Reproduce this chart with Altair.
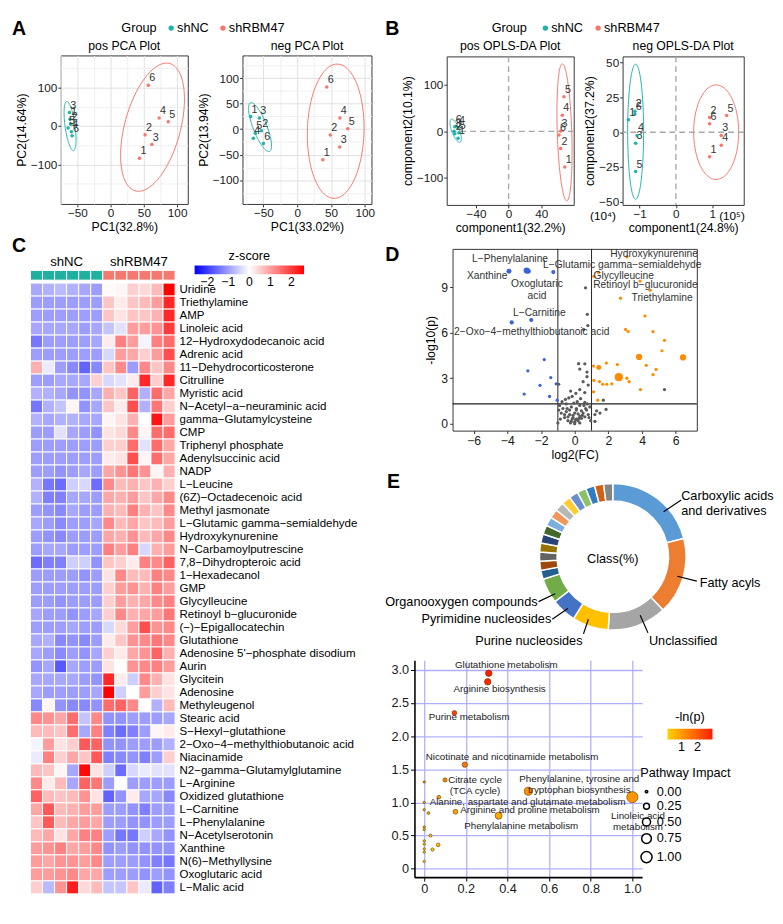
import json
import altair as alt
import numpy as np
import pandas as pd

FONT = "Liberation Sans"
TEAL = "#20B2AA"
SALMON = "#F8766D"
GROUPS = ["shNC", "shRBM47"]
LABELS = ["1", "2", "3", "4", "5", "6"]

pos_pca_nc_x = [-61, -60, -62, -59, -64, -58]
pos_pca_nc_y = [18, 5, 35, -15, -5, -25]
pos_pca_kd_x = [43.5, 51.8, 62, 73, 86.6, 56.6]
pos_pca_kd_y = [-84, -23, -48, 21, 11, 106]
neg_pca_nc_x = [-69, -53, -56, -65, -62, -50]
neg_pca_nc_y = [25, -3, 22, -18, -8, -28]
neg_pca_kd_x = [38, 49, 63, 63.3, 75, 43.8]
neg_pca_kd_y = [-60, -11.5, -35, 22, 1, 83]
pos_opls_nc_x = [-62, -66, -67, -62, -61, -66]
pos_opls_nc_y = [-15, -5, 0, 8, -3, 10]
pos_opls_kd_x = [69, 64, 64, 66, 68, 62]
pos_opls_kd_y = [-77, -37, 1, 35, 75, -8]
neg_opls_nc_x = [-1.31, -1.13, -1.11, -1.07, -1.11, -1.13]
neg_opls_nc_y = [9, 15, -8, -2.3, -28.3, 13]
neg_opls_kd_x = [0.93, 0.93, 1.25, 1.25, 1.4, 0.93]
neg_opls_kd_y = [-17.7, 10.6, -2.3, -9.4, 12, 6]
pos_pca_ell = {"shNC": [-61, 0, 9, 64, 123], "shRBM47": [63, -3, 48, 167, 64]}
neg_pca_ell = {"shNC": [-55, 4, 17, 48, 140], "shRBM47": [57, -4, 42, 132, 87]}
pos_opls_ell = {"shNC": [-65, 1.5, 7, 25, 134], "shRBM47": [68.7, -2, 9.3, 148, 107]}
neg_opls_ell = {"shNC": [-1.11, 0.3, 0.22, 48.6, 90], "shRBM47": [1.11, 0, 0.62, 34, 90]}

metabolites = [
    "Uridine", "Triethylamine", "AMP", "Linoleic acid", "12−Hydroxydodecanoic acid",
    "Adrenic acid", "11−Dehydrocorticosterone", "Citrulline", "Myristic acid",
    "N−Acetyl−a−neuraminic acid", "gamma−Glutamylcysteine", "CMP", "Triphenyl phosphate",
    "Adenylsuccinic acid", "NADP", "L−Leucine", "(6Z)−Octadecenoic acid", "Methyl jasmonate",
    "L−Glutamic gamma−semialdehyde", "Hydroxykynurenine", "N−Carbamoylputrescine",
    "7,8−Dihydropteroic acid", "1−Hexadecanol", "GMP", "Glycylleucine",
    "Retinoyl b−glucuronide", "(−)−Epigallocatechin", "Glutathione",
    "Adenosine 5'−phosphate disodium", "Aurin", "Glycitein", "Adenosine", "Methyleugenol",
    "Stearic acid", "S−Hexyl−glutathione", "2−Oxo−4−methylthiobutanoic acid", "Niacinamide",
    "N2−gamma−Glutamylglutamine", "L−Arginine", "Oxidized glutathione", "L−Carnitine",
    "L−Phenylalanine", "N−Acetylserotonin", "Xanthine", "N(6)−Methyllysine",
    "Oxoglutaric acid", "L−Malic acid",
]
zscores = [
    [-0.9, -0.8, -0.7, -0.8, -0.9, -1.0, 0.05, 0.1, 0.5, 0.4, 0.7, 2.6],
    [-1.0, -1.0, -1.0, -1.0, -1.0, -1.0, 0.6, 0.2, 0.6, 0.7, 1.0, 2.2],
    [-1.0, -1.0, -1.0, -1.0, -1.0, -1.0, 0.6, 0.3, 0.6, 0.6, 0.8, 2.2],
    [-0.9, -0.9, -0.9, -0.9, -1.0, -0.9, -0.6, -0.3, 1.0, 1.0, 1.1, 2.0],
    [-1.4, -1.0, -1.0, -1.0, -1.0, -0.9, 0.2, 1.3, 1.0, -0.1, 1.3, 1.5],
    [-1.0, -1.0, -1.0, -1.0, -1.0, -1.0, -0.4, 1.0, 0.9, 0.5, 1.0, 1.8],
    [0.8, -0.2, -1.0, -1.2, -1.6, -1.2, 0.6, 1.2, -1.0, 1.2, 0.6, 1.2],
    [-1.0, -1.0, -0.9, -0.9, -0.9, 0.5, -0.4, -0.3, 0.2, 2.2, 0.5, 2.2],
    [-0.8, -0.8, -0.9, -1.1, -1.1, -0.9, 0.8, 0.6, 1.6, -0.8, 1.5, 0.9],
    [-1.4, -0.8, -0.6, 0.1, -1.1, -0.9, 0.6, 0.2, 1.8, -0.8, 1.4, 0.5],
    [-0.8, -0.9, -0.8, -0.8, -0.9, -0.9, 0.1, 0.3, 0.8, 0.0, 2.4, 1.0],
    [-1.0, -1.0, -0.3, -0.9, -1.0, -1.1, 0.3, 0.4, 1.2, 0.1, 1.5, 1.5],
    [-1.0, -1.0, -1.0, -1.0, -1.0, -1.0, 0.5, 0.5, 1.5, -0.3, 1.5, 0.9],
    [-1.0, -1.0, -1.0, -1.0, -1.0, -1.0, 0.2, 0.3, 1.8, 0.1, 1.5, 0.9],
    [-1.0, -1.0, -1.1, -1.0, -0.9, -1.0, 0.9, 1.1, 1.4, 1.1, 0.1, 0.8],
    [-0.8, -1.4, -1.5, -0.5, -0.4, -1.5, 1.2, 0.7, 0.8, 0.6, 0.8, 0.5],
    [-0.8, -1.3, -1.3, -0.9, -0.9, -1.0, 0.9, 0.8, 1.0, 0.6, 0.9, 1.2],
    [-1.0, -1.1, -1.2, -0.9, -1.0, -1.0, 0.8, 0.7, 1.3, 0.8, 0.6, 1.2],
    [-0.9, -1.0, -1.2, -1.0, -1.0, -0.9, 1.2, 0.7, 0.9, 0.6, 0.7, 1.0],
    [-1.0, -1.1, -1.2, -1.0, -1.0, -1.0, 0.9, 0.8, 1.1, 0.7, 0.9, 1.2],
    [-1.0, -0.9, -0.9, -1.0, -1.0, -1.0, 1.3, 1.0, 1.3, -0.4, 0.8, 1.0],
    [-1.5, -1.3, -1.3, -0.5, -0.5, -1.1, 0.6, 0.5, 0.2, 1.3, 1.2, 1.6],
    [-1.0, -1.0, -1.0, -1.0, -1.1, -1.0, 0.3, 1.2, 0.7, 0.7, 1.3, 1.2],
    [-1.0, -1.0, -1.0, -1.0, -1.0, -1.0, 0.5, 1.0, 1.1, 0.8, 1.3, 1.0],
    [-1.0, -1.0, -1.1, -1.0, -1.0, -1.0, 0.5, 1.0, 0.8, 0.9, 1.2, 1.3],
    [-0.9, -1.0, -1.0, -1.1, -1.0, -0.9, 0.5, 1.2, 0.8, 0.9, 1.0, 1.4],
    [-1.0, -1.0, -1.0, -0.9, -1.0, -1.0, -0.4, 0.4, 1.0, 1.8, 1.1, 1.2],
    [-0.9, -0.8, -1.2, -1.1, -1.2, -1.0, 0.2, 0.6, 1.1, 1.2, 1.4, 1.2],
    [-0.9, -1.0, -1.2, -1.0, -1.1, -0.9, 0.5, 0.2, 0.9, 1.1, 1.6, 0.8],
    [-1.1, -0.9, -1.7, -0.9, -1.0, -1.0, 0.3, 0.0, 1.1, 1.2, 1.3, 1.0],
    [-0.9, -0.9, -0.9, -0.9, -1.0, -1.1, 2.2, 0.2, -0.5, 1.2, 0.8, 0.3],
    [-0.9, -1.0, -1.0, -1.0, -1.0, -0.9, 2.6, -0.5, 0.0, 1.0, 0.5, 0.3],
    [-1.2, 0.1, -1.1, -1.2, -1.2, -1.1, 1.5, 1.6, 1.2, 0.0, -0.8, 0.7],
    [1.2, 1.1, 0.9, 1.5, -0.6, 1.2, -1.1, -1.1, -1.0, -1.0, -1.0, -0.9],
    [0.7, 0.7, 0.6, 1.5, -0.9, 1.3, -1.3, -1.5, -1.3, -1.0, 0.1, 0.2],
    [-0.1, 1.0, 0.3, 0.5, 1.7, 1.6, -1.1, -1.1, -1.0, -1.0, -1.0, -0.8],
    [-0.2, 1.3, 0.5, 0.9, 0.6, 1.7, -1.3, -1.2, -1.1, -1.3, -1.0, 0.5],
    [0.7, 0.6, 0.1, -0.9, 2.5, 0.3, -0.5, -1.5, -0.4, -0.2, -0.3, -0.3],
    [1.2, 0.2, 0.7, -0.9, 1.6, 1.4, -1.0, 0.0, -1.0, -1.0, -1.0, -1.0],
    [1.6, 0.7, 0.6, 0.7, 1.1, 0.3, -1.6, -1.1, 0.2, -0.9, -0.9, -1.2],
    [0.9, 1.7, 0.7, 0.8, 1.0, 1.0, -1.0, -1.0, -1.1, -1.3, -1.0, -1.0],
    [0.6, 1.7, 0.7, 0.9, 1.0, 0.9, -1.0, -1.0, -1.1, -1.1, -1.0, -1.0],
    [0.7, 0.9, 0.3, 0.9, 1.3, 1.3, -1.0, -1.4, -1.4, -0.5, -0.9, -1.1],
    [1.0, 1.1, 1.3, 0.9, 1.0, 1.2, -1.1, -1.0, -1.1, -1.1, -1.1, -1.1],
    [1.0, 0.9, 1.1, 1.1, 1.0, 1.2, -1.0, -1.0, -1.0, -1.1, -1.3, -1.4],
    [1.0, 1.0, 1.1, 1.2, 0.9, 0.9, -1.0, -1.0, -1.0, -1.1, -1.0, -1.1],
    [0.5, -0.7, 1.1, 2.3, 0.4, 0.7, -0.6, -0.6, 0.6, -0.2, -1.6, -1.3],
]
sample_group = ["shNC"] * 6 + ["shRBM47"] * 6

down_fc = [-3.9, -2.85, -2.75, -1.27, -2.58, -3.74, -1.81, -2.78, -1.42, -2.06, -1.1, -3.0, -1.49, -1.04]
down_lp = [10.05, 10.1, 10.05, 10.0, 6.84, 6.68, 4.23, 3.49, 3.04, 2.53, 2.63, 1.95, 1.8, 1.55]
down_vip = [2, 3, 2, 1.5, 1.5, 1.5, 1, 1, 1, 1, 1, 1, 1, 1]
up_fc = [3.1, 1.41, 1.14, 3.88, 4.48, 2.72, 4.17, 3.02, 3.17, 4.65, 5.33, 5.18, 6.43, 3.82, 4.25,
         4.83, 4.65, 2.53, 1.88, 1.43, 1.12, 2.62, 3.1, 3.23, 1.47, 1.66, 1.9, 2.2, 1.14, 3.9, 1.12, 1.37]
up_lp = [11.0, 9.97, 9.72, 9.41, 8.8, 8.28, 7.11, 6.22, 6.08, 6.07, 5.5, 4.81, 4.37, 4.4, 3.85,
         3.58, 3.23, 3.9, 4.0, 3.7, 3.8, 3.07, 3.0, 2.77, 2.77, 2.6, 2.6, 2.63, 2.85, 2.25, 2.1, 1.55]
up_vip = [1, 1, 1, 1, 1, 1, 1, 1, 1, 1, 1, 1, 3, 3, 1, 1, 1, 1, 1, 2, 1, 5, 1, 1, 1, 1, 1, 1, 1, 1, 1, 1]
ns_fc = [0.64, 0.75, 0.78, 0.53, 0.23, 0.6, 0.3, 0.73, 0.73, 0.5, 0.8, -0.95, 0.3, -0.24, 0.07, 0.6,
         1.7, 1.86, 1.3, 5.33,
         -0.9, -0.7, -0.5, -0.3, -0.1, 0.1, 0.3, 0.5, 0.7, 0.9, -0.6, -0.4, -0.2, 0.0, 0.2, 0.4,
         0.6, 0.8, -0.8, -0.5, -0.2, 0.1, 0.3, 0.6, -0.3, 0.0, 0.2, -0.1, 0.4, -0.6, -0.4, 0.05,
         -0.15, 0.25, 0.45, -0.75, -0.55, -0.35, -0.15, 0.15, 0.35, 0.55, 0.75, 0.85, -0.85,
         -0.95, 0.95, 1.2, 1.5, 1.2, -1.0, 0.0, -0.25, 0.3, -0.45, 0.1, 0.65, -0.05]
ns_lp = [8.96, 7.21, 6.47, 6.22, 3.96, 3.95, 3.6, 3.4, 3.1, 2.77, 2.55, 2.6, 2.25, 2.15, 2.0, 2.05,
         1.55, 0.94, 0.85, 2.25,
         1.2, 1.0, 0.8, 0.6, 0.4, 0.3, 0.5, 0.7, 0.9, 1.1, 0.4, 0.2, 0.15, 0.1, 0.2, 0.35,
         0.45, 0.6, 0.7, 1.3, 1.1, 0.9, 1.2, 1.4, 0.9, 0.7, 0.65, 0.55, 0.85, 0.6, 0.45, 0.25,
         0.3, 0.35, 0.55, 1.45, 1.6, 1.7, 1.8, 1.45, 1.65, 1.2, 1.3, 0.4, 0.3,
         0.9, 0.2, 0.6, 0.7, 0.15, 0.05, 0.0, 0.05, 0.05, 1.0, 1.0, 1.0, 1.35]
volcano_labels = ["L−Phenylalanine", "Xanthine", "Oxoglutaric\nacid", "L−Glutamic gamma−semialdehyde",
                  "Hydroxykynurenine", "Glycylleucine", "Retinoyl b−glucuronide", "Triethylamine",
                  "L−Carnitine", "2−Oxo−4−methylthiobutanoic acid"]
volcano_lab_x = [-3.84, -5.19, -2.24, 2.82, 4.71, 2.91, 4.2, 5.19, -2.1, -2.55]
volcano_lab_y = [10.85, 9.76, 9.2, 10.48, 11.2, 9.72, 9.15, 8.31, 7.29, 6.07]

classes = ["Carboxylic acids and derivatives", "Fatty acyls", "Unclassified", "Purine nucleosides",
           "Pyrimidine nucleosides", "Organooxygen compounds"] + ["other %d" % i for i in range(1, 16)]
class_pct = [21, 17, 13, 8, 5.5, 5.5] + [2] * 15
class_colors = ["#5B9BD5", "#ED7D31", "#A5A5A5", "#FFC000", "#4472C4", "#70AD47", "#255E91", "#9E480E",
                "#636363", "#997300", "#264478", "#43682B", "#7CAFDD", "#F1975A", "#B7B7B7", "#FFCD33",
                "#698ED0", "#8CC168", "#327DC2", "#D26012", "#848484"]
donut_lab = ["Carboxylic acids\nand derivatives", "Fatty acyls", "Unclassified", "Purine nucleosides",
             "Pyrimidine nucleosides", "Organooxygen compounds"]
donut_lab_side = ["left", "left", "left", "right", "right", "right"]
donut_lab_x = [70, 89, 37, -31, -63, -77]
donut_lab_y = [-62, 27, 86, 86, 64, 46]
donut_line = [[52, -46, 70, -58], [66, 20, 86, 25], [28, 60, 36, 78],
              [-25, 64, -30, 79], [-46, 53, -62, 64], [-59, 38, -76, 46]]

pathways = ["Glutathione metabolism", "Arginine biosynthesis", "Purine metabolism",
            "Nicotinate and nicotinamide metabolism", "Citrate cycle (TCA cycle)",
            "Phenylalanine, tyrosine and tryptophan biosynthesis", "Linoleic acid metabolism",
            "Alanine, aspartate and glutamate metabolism", "Arginine and proline metabolism",
            "Phenylalanine metabolism"] + ["p%d" % i for i in range(1, 15)]
impact = [0.31, 0.305, 0.145, 0.195, 0.10, 0.50, 1.0, 0.07, 0.15, 0.357,
          0, 0, 0, 0.02, 0, 0, 0.03, 0, 0, 0.067, 0.04, 0, 0, 0]
neglogp = [2.95, 2.82, 2.35, 1.57, 1.34, 1.17, 1.08, 1.08, 0.86, 0.80,
           1.31, 1.0, 0.89, 0.84, 0.63, 0.59, 0.5, 0.42, 0.37, 0.36, 0.29, 0.30, 0.25, 0.11]
path_lab = ["Glutathione metabolism", "Arginine biosynthesis", "Purine metabolism",
            "Nicotinate and nicotinamide metabolism", "Citrate cycle\n(TCA cycle)",
            "Phenylalanine, tyrosine and\ntryptophan biosynthesis", "Linoleic acid\nmetabolism",
            "Alanine, aspartate and glutamate metabolism", "Arginine and proline metabolism",
            "Phenylalanine metabolism"]
path_lab_x = [0.394, 0.362, 0.216, 0.422, 0.244, 0.745, 1.027, 0.497, 0.508, 0.466]
path_lab_y = [3.08, 2.71, 2.29, 1.69, 1.345, 1.36, 0.80, 1.01, 0.88, 0.65]

TRANSPARENT = alt.ViewBackground(stroke="transparent")


def ellipse(params, group):
    cx, cy, a, b, d = params
    t = np.linspace(0, 2 * np.pi, 121)
    return pd.DataFrame({"x": cx + a * np.cos(t), "y": cy + b * np.cos(t - np.radians(d)),
                         "group": group, "t": np.arange(len(t))})


def mk_axis(major, minor, title, grid):
    vals = sorted(major + minor)
    test = "indexof(%s, datum.value) >= 0" % json.dumps(major)
    kw = dict(values=vals, title=title, grid=grid, labelExpr=test + " ? datum.label : ''",
              tickColor={"condition": {"test": test, "value": "#333333"}, "value": "transparent"},
              labelFontSize=12, titleFontSize=12.5, tickSize=3, labelColor="#1a1a1a", titlePadding=2,
              labelPadding=1)
    if grid:
        kw["gridColor"] = {"condition": {"test": test, "value": "#E0E0E0"}, "value": "#F0F0F0"}
    return alt.Axis(**kw)


GROUP_SCALE = alt.Scale(domain=GROUPS, range=[TEAL, SALMON])


def txt(s, x, y, size=13, weight="normal", align="left", baseline="middle"):
    return alt.Chart(pd.DataFrame({"t": [s]})).mark_text(
        fontSize=size, fontWeight=weight, align=align, baseline=baseline, color="black"
    ).encode(text="t:N", x=alt.value(x), y=alt.value(y))


def letter(ch, x, top):
    return txt(ch, x, top + 10, size=20, weight="bold", baseline="middle")


def dot(color, x, y):
    return alt.Chart(pd.DataFrame({"t": [0]})).mark_circle(size=30, opacity=1, color=color).encode(
        x=alt.value(x), y=alt.value(y))


def spacer():
    return alt.Chart(pd.DataFrame({"a": [0]})).mark_point(opacity=0, size=1).encode(
        x=alt.value(0), y=alt.value(0)).properties(width=1, height=1, view=TRANSPARENT)


def wrap(ch):
    # lines the wrapped panel up by its left edge inside a column
    return alt.hconcat(spacer(), ch, spacing=0)


def legend_strip(ch, lx, gx, d1, t1, d2, t2):
    return alt.layer(
        letter(ch, lx, -3),
        txt("Group", gx, 6), dot(TEAL, d1, 6), txt("shNC", t1, 6),
        dot(SALMON, d2, 6), txt("shRBM47", t2, 6),
    ).properties(width=150, height=8, view=TRANSPARENT)


def scatter(nc_x, nc_y, kd_x, kd_y, ell, xdom, ydom, xmaj, xmin, ymaj, ymin, grid, zero,
            title, xt, yt, w, h, extra=()):
    pts = pd.DataFrame({"x": nc_x + kd_x, "y": nc_y + kd_y, "group": ["shNC"] * 6 + ["shRBM47"] * 6,
                        "lab": LABELS * 2})
    edf = pd.concat([ellipse(ell["shNC"], "shNC"), ellipse(ell["shRBM47"], "shRBM47")])
    xs = alt.Scale(domain=xdom, nice=False, zero=False)
    ys = alt.Scale(domain=ydom, nice=False, zero=False)
    X = alt.X("x:Q", scale=xs, axis=mk_axis(xmaj, xmin, xt, grid))
    Y = alt.Y("y:Q", scale=ys, axis=mk_axis(ymaj, ymin, yt, grid))
    layers = [alt.Chart(edf).mark_line(strokeWidth=1, clip=True).encode(
        x=X, y=Y, color=alt.Color("group:N", scale=GROUP_SCALE, legend=None),
        detail="group:N", order="t:Q")]
    if zero:
        layers.append(alt.Chart(pd.DataFrame({"x": [0]})).mark_rule(
            color="#A8A8A8", strokeDash=[6, 4], strokeWidth=1.4).encode(x=X))
        layers.append(alt.Chart(pd.DataFrame({"y": [0]})).mark_rule(
            color="#A8A8A8", strokeDash=[6, 4], strokeWidth=1.4).encode(y=Y))
    layers.append(alt.Chart(pts).mark_circle(size=13, opacity=1).encode(
        x=X, y=Y, color=alt.Color("group:N", scale=GROUP_SCALE, legend=None)))
    layers.append(alt.Chart(pts).mark_text(dx=4, dy=-7, fontSize=11, color="#333333").encode(
        x=X, y=Y, text="lab:N"))
    layers.extend(extra)
    return alt.layer(*layers).properties(
        width=w, height=h, title=alt.TitleParams(title, fontSize=12.5, fontWeight="normal", offset=3))


pos_pca = scatter(pos_pca_nc_x, pos_pca_nc_y, pos_pca_kd_x, pos_pca_kd_y, pos_pca_ell,
                  [-75, 116], [-203, 184], [-50, 0, 50, 100], [-75, -25, 25, 75],
                  [-100, 0, 100], [-150, -50, 50, 150], True, False,
                  "pos PCA Plot", "PC1(32.8%)", "PC2(14.64%)", 130, 152)
neg_pca = scatter(neg_pca_nc_x, neg_pca_nc_y, neg_pca_kd_x, neg_pca_kd_y, neg_pca_ell,
                  [-81, 110], [-147, 145], [-50, 0, 50, 100], [-75, -25, 25, 75],
                  [-100, -50, 0, 50, 100], [-125, -75, -25, 25, 75, 125], True, False,
                  "neg PCA Plot", "PC1(33.02%)", "PC2(13.94%)", 132, 152)
opls_extra = [txt("(10\u2074)", -20, 163, size=12, align="center"),
              txt("(10\u2075)", 112, 163, size=12, align="center")]
pos_opls = scatter(pos_opls_nc_x, pos_opls_nc_y, pos_opls_kd_x, pos_opls_kd_y, pos_opls_ell,
                   [-76, 80], [-159, 162], [-40, 0, 40], [], [-100, 0, 100], [], False, True,
                   "pos OPLS-DA Plot", "component1(32.2%)", "component2(10.1%)", 130, 152)
neg_opls = scatter(neg_opls_nc_x, neg_opls_nc_y, neg_opls_kd_x, neg_opls_kd_y, neg_opls_ell,
                   [-1.47, 1.87], [-52.3, 54.5], [-1, 0, 1], [], [-50, -25, 0, 25, 50], [], False, True,
                   "neg OPLS-DA Plot", "component1(24.8%)", "component2(37.2%)", 124, 152,
                   extra=opls_extra)

a_block = alt.vconcat(legend_strip("A", -50, 62, 113, 119, 166, 172),
                      alt.hconcat(pos_pca, neg_pca, spacing=8), spacing=0)
b_block = alt.vconcat(legend_strip("B", -63, 46, 101, 107, 155, 161),
                      alt.hconcat(pos_opls, neg_opls, spacing=8), spacing=0)

rows = []
for i, m in enumerate(metabolites):
    for j in range(12):
        rows.append({"m": m, "c": j, "c2": j + 1, "z": zscores[i][j]})
hm_df = pd.DataFrame(rows)
strip_df = pd.DataFrame({"c": list(range(12)), "c2": list(range(1, 13)), "g": sample_group})
strip_txt = pd.DataFrame({"c": [3, 9], "t": GROUPS})
HX = alt.X("c:Q", scale=alt.Scale(domain=[0, 12], nice=False, zero=False), axis=None)
HROW = 13.3
cells = alt.Chart(hm_df).mark_rect(stroke="white", strokeWidth=1).encode(
    x=HX, x2="c2:Q",
    y=alt.Y("m:N", sort=metabolites, scale=alt.Scale(paddingInner=0, paddingOuter=0),
            axis=alt.Axis(orient="right", title=None, ticks=False, domain=False, labelFontSize=11.8,
                          labelPadding=4, labelColor="black", labelLimit=300)),
    color=alt.Color("z:Q", scale=alt.Scale(domain=[-2.6, 0, 2.6], range=["#0000FF", "#FFFFFF", "#FF0000"],
                                           interpolate="rgb"),
                    legend=alt.Legend(title="z-score", orient="none", legendX=168, legendY=-34,
                                      direction="horizontal", gradientLength=112, gradientThickness=9,
                                      values=[-2, -1, 0, 1, 2], titleAnchor="middle", titleFontSize=13,
                                      titleFontWeight="normal", labelFontSize=12.5, titlePadding=3)))
strip = alt.Chart(strip_df).mark_rect(stroke="white", strokeWidth=1).encode(
    x=HX, x2="c2:Q", y=alt.value(-13), y2=alt.value(-3),
    color=alt.Color("g:N", scale=alt.Scale(domain=GROUPS, range=["#1FB0A0", "#F47A70"]), legend=None))
strip_lab = alt.Chart(strip_txt).mark_text(fontSize=13.5, color="black", baseline="middle").encode(
    x=HX, y=alt.value(-22), text="t:N")
heat = alt.layer(strip, cells, strip_lab, letter("C", -19, -48)).resolve_scale(
    color="independent").properties(width=148, height=HROW * len(metabolites), view=TRANSPARENT)

left_col = alt.vconcat(wrap(a_block), wrap(heat), spacing=2).resolve_scale(color="independent")

vol_df = pd.DataFrame({
    "fc": down_fc + up_fc + ns_fc, "lp": down_lp + up_lp + ns_lp,
    "cls": ["down"] * len(down_fc) + ["up"] * len(up_fc) + ["ns"] * len(ns_fc),
    "vip": down_vip + up_vip + [1] * len(ns_fc)})
VX = alt.X("fc:Q", scale=alt.Scale(domain=[-7.25, 7.25], nice=False, zero=False),
           axis=alt.Axis(values=[-6, -4, -2, 0, 2, 4, 6], title="log2(FC)", grid=False, labelFontSize=12.5,
                         titleFontSize=12.5, tickSize=3, labelColor="#1a1a1a", titlePadding=2, labelPadding=1))
VY = alt.Y("lp:Q", scale=alt.Scale(domain=[-0.46, 11.53], nice=False, zero=False),
           axis=alt.Axis(values=[0, 3, 6, 9], title="-log10(p)", grid=False, labelFontSize=12.5,
                         titleFontSize=12.5, tickSize=3, labelColor="#1a1a1a"))
vol_pts = alt.Chart(vol_df).mark_circle(opacity=1).encode(
    x=VX, y=VY,
    color=alt.Color("cls:N", scale=alt.Scale(domain=["down", "ns", "up"], range=["#3A63D8", "#5A5A5A", "#FF8C00"]),
                    legend=None),
    size=alt.Size("vip:Q", scale=alt.Scale(domain=[1, 5], range=[11, 70]), legend=None),
    order=alt.Order("cls:N"))
vrules_x = alt.Chart(pd.DataFrame({"fc": [-1, 1]})).mark_rule(color="#222", strokeWidth=1).encode(x=VX)
vrules_y = alt.Chart(pd.DataFrame({"lp": [1.3]})).mark_rule(color="#222", strokeWidth=1.2).encode(y=VY)
vol_lab = alt.Chart(pd.DataFrame({"fc": volcano_lab_x, "lp": volcano_lab_y, "t": volcano_labels})).mark_text(
    fontSize=10.5, color="#333333", lineBreak="\n").encode(x=VX, y=VY, text="t:N")
volcano = alt.layer(vrules_x, vrules_y, vol_pts, vol_lab, letter("D", -69, -4)).properties(width=250, height=186)

DW, DH = 350, 176
CX, CY = 231, 86
don_df = pd.DataFrame({"cls": classes, "pct": class_pct, "idx": list(range(len(classes)))})
DXS = alt.Scale(domain=[-CX, DW - CX], nice=False, zero=False)
DYS = alt.Scale(domain=[-CY, DH - CY], nice=False, zero=False, reverse=True)
ring = alt.Chart(don_df).mark_arc(innerRadius=57, outerRadius=75, stroke="white", strokeWidth=1.5).encode(
    theta=alt.Theta("pct:Q", stack=True),
    color=alt.Color("cls:N", sort=classes, scale=alt.Scale(domain=classes, range=class_colors), legend=None),
    order=alt.Order("idx:Q"), x=alt.value(CX), y=alt.value(CY))
lines_df = pd.DataFrame({"x": [l[0] for l in donut_line], "y": [l[1] for l in donut_line],
                         "x2": [l[2] for l in donut_line], "y2": [l[3] for l in donut_line]})
lead = alt.Chart(lines_df).mark_rule(color="black", strokeWidth=1.2).encode(
    x=alt.X("x:Q", scale=DXS, axis=None), y=alt.Y("y:Q", scale=DYS, axis=None), x2="x2:Q", y2="y2:Q")
lab_df = pd.DataFrame({"x": donut_lab_x, "y": donut_lab_y, "t": donut_lab, "side": donut_lab_side})
lab_l = alt.Chart(lab_df[lab_df.side == "left"]).mark_text(
    align="left", fontSize=13, color="black", lineBreak="\n").encode(
    x=alt.X("x:Q", scale=DXS, axis=None), y=alt.Y("y:Q", scale=DYS, axis=None), text="t:N")
lab_r = alt.Chart(lab_df[lab_df.side == "right"]).mark_text(
    align="right", fontSize=13, color="black", lineBreak="\n").encode(
    x=alt.X("x:Q", scale=DXS, axis=None), y=alt.Y("y:Q", scale=DYS, axis=None), text="t:N")
center = alt.Chart(pd.DataFrame({"x": [0], "y": [2], "t": ["Class(%)"]})).mark_text(
    fontSize=13, color="black").encode(
    x=alt.X("x:Q", scale=DXS, axis=None), y=alt.Y("y:Q", scale=DYS, axis=None), text="t:N")
donut = alt.layer(ring, lead, lab_l, lab_r, center, letter("E", 0, 0)).properties(
    width=DW, height=DH, view=TRANSPARENT)

bub_df = pd.DataFrame({"pathway": pathways, "impact": impact, "lp": neglogp})
BX = alt.X("impact:Q", scale=alt.Scale(domain=[-0.047, 1.047], nice=False, zero=False),
           axis=alt.Axis(values=[0, 0.2, 0.4, 0.6, 0.8, 1.0], title=None, gridColor="#B0B0FF", gridWidth=1.3,
                         domain=True, domainColor="black", domainWidth=1.6, tickColor="black", tickSize=4,
                         labelFontSize=13, labelColor="#1a1a1a",
                         labelExpr="datum.value == 0 ? '0' : format(datum.value, '.1f')"))
BY = alt.Y("lp:Q", scale=alt.Scale(domain=[-0.127, 3.146], nice=False, zero=False),
           axis=alt.Axis(values=[0, 0.5, 1.0, 1.5, 2.0, 2.5, 3.0], title=None, gridColor="#B0B0FF", gridWidth=1.3,
                         domain=True, domainColor="black", domainWidth=1.6, tickColor="black", tickSize=4,
                         labelFontSize=13, labelColor="#1a1a1a", minExtent=30,
                         labelExpr="datum.value == 0 ? '0' : format(datum.value, '.1f')"))
bub_pts = alt.Chart(bub_df).mark_circle(opacity=1, stroke="#5a3a00", strokeWidth=0.6).encode(
    x=BX, y=BY,
    color=alt.Color("lp:Q", scale=alt.Scale(range=["#FFD200", "#FF1E00"], interpolate="rgb"),
                    legend=alt.Legend(title="-ln(p)", orient="none", legendX=292, legendY=52,
                                      direction="horizontal", gradientLength=46, gradientThickness=11,
                                      values=[1, 2], titleAnchor="middle", titleFontSize=13,
                                      titleFontWeight="normal", labelFontSize=13)),
    size=alt.Size("impact:Q", scale=alt.Scale(domain=[0, 1], range=[6, 130]),
                  legend=alt.Legend(title="Pathway Impact", orient="none", legendX=264, legendY=110,
                                    values=[0, 0.25, 0.5, 0.75, 1.0], format=".2f", symbolFillColor="white",
                                    symbolStrokeColor="black", symbolStrokeWidth=1.5, titleFontSize=13,
                                    titleFontWeight="normal", labelFontSize=13, rowPadding=1)))
bub_lab = alt.Chart(pd.DataFrame({"impact": path_lab_x, "lp": path_lab_y, "t": path_lab})).mark_text(
    fontSize=10, color="#222222", lineBreak="\n").encode(x=BX, y=BY, text="t:N")
bubble = alt.layer(bub_pts, bub_lab).properties(width=233, height=222, view=TRANSPARENT)

lower = alt.vconcat(wrap(volcano), wrap(donut), wrap(bubble), spacing=10).resolve_scale(
    color="independent", size="independent")
right_col = alt.vconcat(wrap(b_block), lower, spacing=10).resolve_scale(
    color="independent", size="independent")

chart = alt.hconcat(left_col, right_col, spacing=6).resolve_scale(
    color="independent", size="independent"
).properties(padding=0).configure(font=FONT, background="white").configure_view(
    stroke="#333333", strokeWidth=1).configure_axis(
    labelFont=FONT, titleFont=FONT, titleFontWeight="normal", titleColor="black", domain=False,
    tickColor="#333333").configure_legend(labelFont=FONT, titleFont=FONT).configure_title(font=FONT)

chart.save("out.html", embed_options={"renderer": "svg", "actions": False})
